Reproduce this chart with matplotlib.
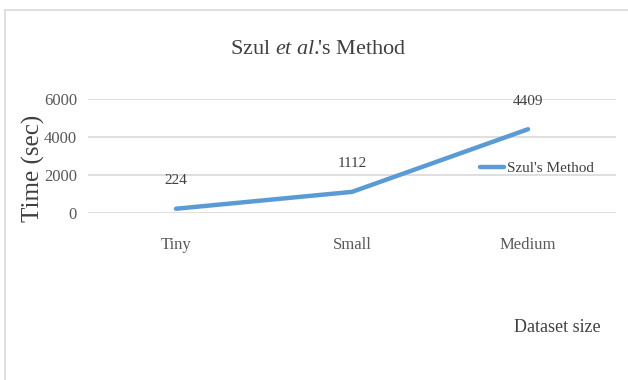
import matplotlib
matplotlib.use("Agg")
import matplotlib.pyplot as plt
from matplotlib.patches import Rectangle

categories = ["Tiny", "Small", "Medium"]
values = [224, 1112, 4409]
yticks = [0, 2000, 4000, 6000]
series_name = "Szul's Method"

plt.rcParams['font.family'] = ['Liberation Serif', 'DejaVu Serif']
plt.rcParams['mathtext.fontset'] = 'custom'
plt.rcParams['mathtext.rm'] = 'Liberation Serif'
plt.rcParams['mathtext.it'] = 'Liberation Serif:italic'

fig = plt.figure(figsize=(6.28, 3.8), dpi=100)
fig.patch.set_facecolor('white')

# outer frame (top and left visible)
fig.add_artist(Rectangle((5/628, -0.1), 1.2, 1 - 10/380 + 0.1, transform=fig.transFigure,
                         fill=False, edgecolor='#d9d9d9', linewidth=1.2))

ax = fig.add_axes([88/628, 1 - 213/380, 528/628, 114/380])
x = list(range(len(categories)))
line, = ax.plot(x, values, color='#5B9BD5', linewidth=3.2, solid_capstyle='round', label=series_name)
ax.set_xlim(-0.5, len(categories) - 0.5)
ax.set_ylim(0, 6000)
ax.set_yticks(yticks)
ax.set_yticklabels([str(t) for t in yticks])
ax.set_xticks(x)
ax.set_xticklabels(categories)
ax.grid(axis='y', color='#d9d9d9', linewidth=1.2)
ax.set_axisbelow(True)
for s in ax.spines.values():
    s.set_visible(False)
ax.tick_params(axis='both', length=0, colors='#595959', labelsize=12)
ax.tick_params(axis='x', pad=17, labelsize=12)
ax.tick_params(axis='y', pad=8)

for xi, v in zip(x, values):
    ax.annotate(str(v), (xi, v), xytext=(0, 15.5), textcoords='offset points',
                ha='center', va='bottom', fontsize=11, color='#404040')

fig.text(318/628, 1 - 50/380, "Szul $\\mathit{et\\ al.}\\!\\!$'s Method", ha='center', va='center',
         fontsize=16, color='#404040')
fig.text(33/628, 1 - 168/380, "Time (sec)", rotation=90, ha='center', va='center',
         fontsize=18, color='#404040')
fig.text(557/628, 1 - 327/380, "Dataset size", ha='center', va='center',
         fontsize=13, color='#404040')

leg = fig.legend(handles=[line], loc='center left', bbox_to_anchor=(472/628, 1 - 168/380),
                 frameon=False, fontsize=11, handlelength=1.6, handletextpad=0.2,
                 labelcolor='#404040', borderpad=0)

fig.savefig("out.png", dpi=100)
